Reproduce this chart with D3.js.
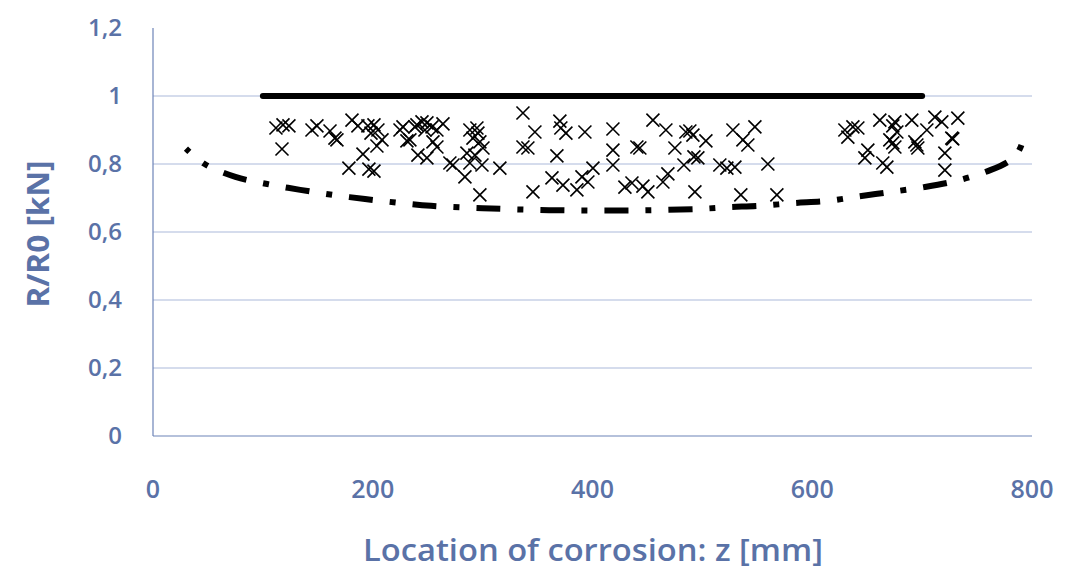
<!DOCTYPE html>
<html>
<head>
<meta charset="utf-8">
<script src="https://cdn.jsdelivr.net/npm/d3@7"></script>
<style>
  html, body { margin: 0; padding: 0; background: #fff; }
  svg { display: block; }
</style>
</head>
<body>
<svg id="chart" width="1073" height="569"></svg>
<script>
// ---- data ----
const xTicks = [0, 200, 400, 600, 800];
const xTickLabels = ["0", "200", "400", "600", "800"];
const yTicks = [0, 0.2, 0.4, 0.6, 0.8, 1, 1.2];
const yTickLabels = ["0", "0,2", "0,4", "0,6", "0,8", "1", "1,2"];
const xTitle = "Location of corrosion: z [mm]";
const yTitle = "R/R0 [kN]";

// reference level (solid line)
const refX = [100, 700];
const refY = [1, 1];

// lower bound curve (dash-dot)
const curveX = [30, 47, 75, 104, 134, 164, 193, 223, 253, 300, 350, 400, 450, 498, 523, 553, 583, 613, 643, 672, 702, 733, 762, 778, 785, 789, 791];
const curveY = [0.845, 0.80, 0.762, 0.741, 0.724, 0.709, 0.697, 0.686, 0.677, 0.670, 0.665, 0.663, 0.664, 0.668, 0.673, 0.677, 0.685, 0.691, 0.705, 0.718, 0.732, 0.752, 0.782, 0.806, 0.825, 0.845, 0.862];

// scatter samples
const sampleX = [111.9, 118.3, 123.7, 117.4, 144.7, 149.2, 161.1, 165.6, 167.4, 181.1,
  186.5, 195.6, 201.1, 204.7, 198.4, 208.4, 203.8, 191.1, 178.3, 196.5,
  201.1, 224.8, 227.5, 231.1, 233.8, 238.4, 241.1, 240.2, 244.8, 249.3,
  247.5, 253.9, 258.4, 263.9, 254.8, 258.4, 249.3, 270.2, 273.0, 283.9,
  288.4, 294.8, 295.7, 291.2, 297.5, 300.3, 285.7, 293.0, 288.4, 299.4,
  315.7, 297.5, 336.7, 347.6, 336.7, 341.2, 345.8, 363.1, 373.1, 385.8,
  367.6, 370.3, 371.2, 375.8, 393.1, 390.4, 395.8, 400.4, 418.6, 418.6,
  418.6, 429.5, 435.9, 440.4, 443.1, 445.9, 450.4, 455.0, 466.8, 464.1,
  468.6, 475.0, 485.0, 488.6, 491.4, 483.2, 492.3, 495.9, 493.2, 503.2,
  515.9, 522.3, 529.6, 527.8, 535.0, 547.8, 536.9, 541.4, 559.6, 567.8,
  629.7, 637.0, 641.5, 632.4, 647.9, 650.6, 661.5, 675.2, 673.3, 677.0,
  690.6, 704.3, 711.6, 717.9, 732.5, 670.6, 673.3, 675.2, 693.4, 695.2,
  696.1, 727.0, 664.2, 667.9, 720.7, 720.7, 727.9];
const sampleY = [0.906, 0.915, 0.912, 0.844, 0.900, 0.912, 0.897, 0.876, 0.871, 0.929,
  0.912, 0.912, 0.915, 0.900, 0.891, 0.871, 0.853, 0.829, 0.788, 0.785,
  0.779, 0.900, 0.909, 0.868, 0.871, 0.909, 0.826, 0.915, 0.924, 0.921,
  0.900, 0.909, 0.900, 0.918, 0.865, 0.850, 0.818, 0.803, 0.797, 0.762,
  0.900, 0.906, 0.891, 0.876, 0.865, 0.847, 0.832, 0.826, 0.803, 0.797,
  0.788, 0.709, 0.950, 0.894, 0.850, 0.847, 0.718, 0.759, 0.738, 0.724,
  0.824, 0.926, 0.906, 0.891, 0.894, 0.762, 0.747, 0.788, 0.903, 0.841,
  0.797, 0.732, 0.744, 0.850, 0.847, 0.735, 0.718, 0.929, 0.900, 0.747,
  0.771, 0.847, 0.894, 0.897, 0.885, 0.797, 0.821, 0.818, 0.718, 0.868,
  0.797, 0.788, 0.791, 0.900, 0.709, 0.909, 0.871, 0.856, 0.800, 0.709,
  0.900, 0.909, 0.906, 0.879, 0.818, 0.841, 0.929, 0.924, 0.912, 0.894,
  0.929, 0.900, 0.938, 0.924, 0.935, 0.871, 0.862, 0.850, 0.865, 0.856,
  0.847, 0.876, 0.803, 0.791, 0.832, 0.782, 0.874];

// ---- drawing ----
const textColor = "#5a72a7";
const axisColor = "#6d84b8";
const gridColor = "#abb9da";
const font = "'Open Sans', 'DejaVu Sans', sans-serif";

const svg = d3.select("#chart");
const x = d3.scaleLinear().domain([0, 800]).range([153, 1032]);
const y = d3.scaleLinear().domain([0, 1.2]).range([436, 28]);

// gridlines
svg.append("g").selectAll("line")
  .data(yTicks.filter(v => v > 0 && v < 1.2))
  .join("line")
  .attr("x1", x(0)).attr("x2", x(800))
  .attr("y1", d => y(d)).attr("y2", d => y(d))
  .attr("stroke", gridColor).attr("stroke-width", 1);

// axes lines
svg.append("line")
  .attr("x1", x(0)).attr("x2", x(0)).attr("y1", y(0)).attr("y2", y(1.2))
  .attr("stroke", axisColor).attr("stroke-width", 1.2);
svg.append("line")
  .attr("x1", x(0)).attr("x2", x(800)).attr("y1", y(0)).attr("y2", y(0))
  .attr("stroke", axisColor).attr("stroke-width", 1.2);

// y tick labels
svg.append("g").selectAll("text")
  .data(yTicks)
  .join("text")
  .attr("x", 122)
  .attr("y", d => y(d) + 8)
  .attr("text-anchor", "end")
  .attr("fill", textColor)
  .attr("font-family", font)
  .attr("font-weight", 600)
  .attr("font-size", 24)
  .text((d, i) => yTickLabels[i]);

// x tick labels
svg.append("g").selectAll("text")
  .data(xTicks)
  .join("text")
  .attr("x", d => x(d))
  .attr("y", 498)
  .attr("text-anchor", "middle")
  .attr("fill", textColor)
  .attr("font-family", font)
  .attr("font-weight", 600)
  .attr("font-size", 25)
  .text((d, i) => xTickLabels[i]);

// titles
svg.append("text")
  .attr("x", 593).attr("y", 561)
  .attr("text-anchor", "middle")
  .attr("fill", textColor)
  .attr("font-family", font)
  .attr("font-weight", 600)
  .attr("font-size", 30)
  .attr("textLength", 460)
  .attr("lengthAdjust", "spacingAndGlyphs")
  .text(xTitle);

svg.append("text")
  .attr("transform", "translate(49,234) rotate(-90)")
  .attr("text-anchor", "middle")
  .attr("fill", textColor)
  .attr("font-family", font)
  .attr("font-weight", 700)
  .attr("font-size", 31)
  .attr("textLength", 147)
  .attr("lengthAdjust", "spacingAndGlyphs")
  .text(yTitle);

// reference line
const refData = refX.map((v, i) => [v, refY[i]]);
svg.append("path")
  .datum(refData)
  .attr("d", d3.line().x(d => x(d[0])).y(d => y(d[1])))
  .attr("stroke", "#000").attr("stroke-width", 6)
  .attr("stroke-linecap", "round")
  .attr("fill", "none");

// lower-bound curve
const curveData = curveX.map((v, i) => [v, curveY[i]]);
svg.append("path")
  .datum(curveData)
  .attr("d", d3.line().x(d => x(d[0])).y(d => y(d[1])).curve(d3.curveCatmullRom))
  .attr("stroke", "#000").attr("stroke-width", 6)
  .attr("stroke-dasharray", "24,17,6,17")
  .attr("stroke-dashoffset", 19)
  .attr("fill", "none");

// scatter crosses
const samples = sampleX.map((v, i) => [v, sampleY[i]]);
const h = 6.5;
svg.append("g").selectAll("path")
  .data(samples)
  .join("path")
  .attr("transform", d => `translate(${x(d[0])},${y(d[1])})`)
  .attr("d", `M${-h},${-h}L${h},${h}M${-h},${h}L${h},${-h}`)
  .attr("stroke", "#000").attr("stroke-width", 1.6)
  .attr("fill", "none");
</script>
</body>
</html>
